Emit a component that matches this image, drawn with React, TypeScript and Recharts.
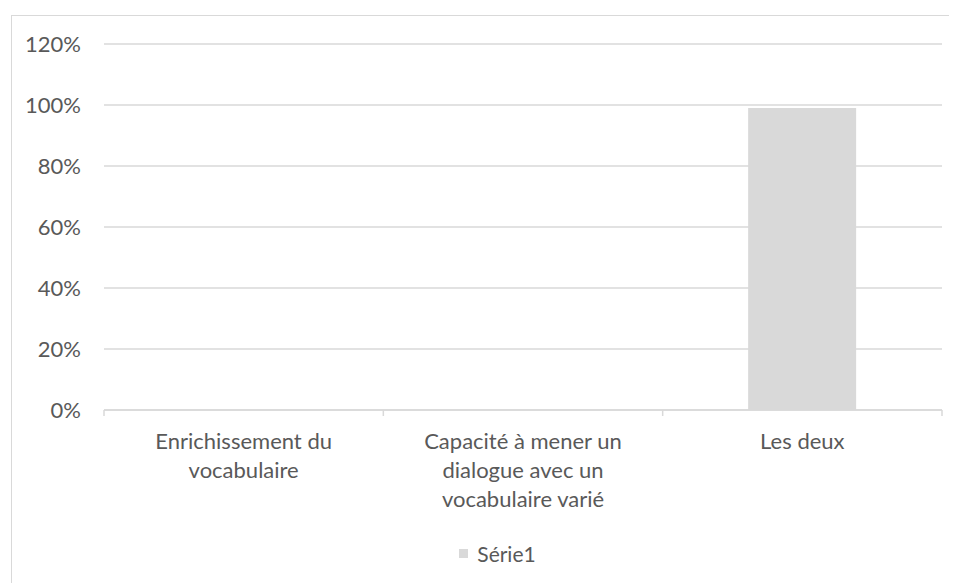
import React from "react";
import { BarChart, Bar, XAxis, YAxis, CartesianGrid, Legend } from "recharts";

const categories = [
  "Enrichissement du\nvocabulaire",
  "Capacité à mener un\ndialogue avec un\nvocabulaire varié",
  "Les deux",
];
const serie1 = [0, 0, 0.99];
const yTicks = [0, 0.2, 0.4, 0.6, 0.8, 1.0, 1.2];
const seriesName = "Série1";

const data = categories.map((c, i) => ({ name: c, value: serie1[i] }));

const W = 949;
const H = 575;
const LEGEND_H = 24;
const X_H = 20;
const MARGIN = { top: 36, right: 15, left: 0, bottom: 173 - X_H - LEGEND_H };
const Y_WIDTH = 96;
const FONT = "Lato, 'Open Sans', sans-serif";
const TEXT = "#595959";
const GRID = "#d9d9d9";
const BAR = "#d9d9d9";

const plotW = W - MARGIN.left - MARGIN.right - Y_WIDTH;
const band = plotW / categories.length;

const XTick = (props: any) => {
  const { x, y, payload, index } = props;
  const lines = String(payload.value).split("\n");
  const left = x - band / 2;
  const right = x + band / 2;
  return (
    <g>
      <line x1={left} y1={y} x2={left} y2={y + 6} stroke={GRID} strokeWidth={1.5} />
      {index === categories.length - 1 && (
        <line x1={right} y1={y} x2={right} y2={y + 6} stroke={GRID} strokeWidth={1.5} />
      )}
      <text x={x} y={y + 39} textAnchor="middle" fill={TEXT} fontSize={22} fontFamily={FONT}>
        {lines.map((l, i) => (
          <tspan key={i} x={x} dy={i === 0 ? 0 : 29}>
            {l}
          </tspan>
        ))}
      </text>
    </g>
  );
};

const LegendContent = () => (
  <div
    style={{
      display: "flex",
      justifyContent: "center",
      alignItems: "center",
      height: LEGEND_H,
      paddingLeft: 30,
      boxSizing: "border-box",
      fontFamily: FONT,
      fontSize: 21,
      color: TEXT,
    }}
  >
    <span style={{ display: "inline-block", width: 9, height: 9, background: BAR, marginRight: 9 }} />
    <span>{seriesName}</span>
  </div>
);

export default function App() {
  return (
    <div style={{ position: "relative", width: W, height: H, overflow: "hidden", background: "#fff" }}>
      <div
        style={{
          position: "absolute",
          left: 3,
          top: 7,
          width: 980,
          height: 620,
          border: `1.5px solid ${GRID}`,
          boxSizing: "border-box",
        }}
      />
      <div style={{ position: "absolute", left: 0, top: 0 }}>
        <BarChart width={W} height={H} data={data} margin={MARGIN} barCategoryGap="30.6%">
          <CartesianGrid horizontal vertical={false} stroke={GRID} strokeWidth={1.5} />
          <XAxis
            dataKey="name"
            interval={0}
            axisLine={{ stroke: GRID, strokeWidth: 1.5 }}
            tickLine={false}
            tickSize={0}
            tickMargin={0}
            tick={<XTick />}
            height={X_H}
          />
          <YAxis
            width={Y_WIDTH}
            domain={[0, 1.2]}
            ticks={yTicks}
            axisLine={false}
            tickLine={false}
            tickSize={0}
            tickMargin={23}
            tickFormatter={(v: number) => `${Math.round(v * 100)}%`}
            tick={{ fill: TEXT, fontSize: 22, fontFamily: FONT }}
          />
          <Legend
            content={<LegendContent />}
            wrapperStyle={{ position: "absolute", top: 533, left: 0, width: W, height: LEGEND_H }}
          />
          <Bar dataKey="value" name={seriesName} fill={BAR} isAnimationActive={false} />
        </BarChart>
      </div>
    </div>
  );
}
